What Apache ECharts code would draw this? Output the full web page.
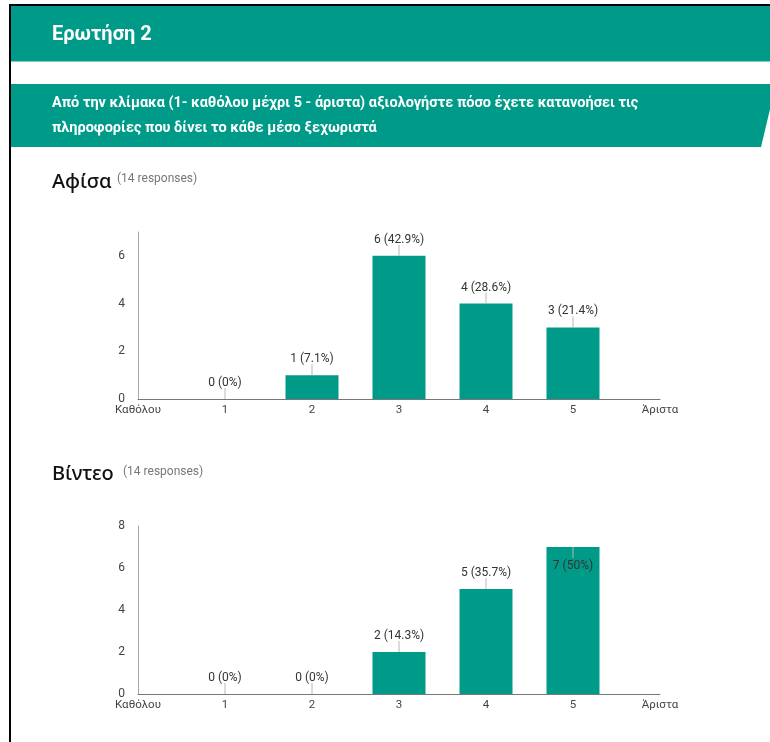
<!DOCTYPE html>
<html>
<head>
<meta charset="utf-8">
<script src="https://cdn.jsdelivr.net/npm/echarts@6/dist/echarts.min.js"></script>
<style>
  html, body { margin: 0; padding: 0; background: #ffffff; }
  #chart { width: 770px; height: 742px; }
</style>
</head>
<body>
<div id="chart"></div>
<script>
// Survey question text
const questionTitle = 'Ερωτήση 2';
const questionLines = [
  'Από την κλίμακα (1- καθόλου μέχρι 5 - άριστα) αξιολογήστε πόσο έχετε κατανοήσει τις',
  'πληροφορίες που δίνει το κάθε μέσο ξεχωριστά'
];
const sectionNames = ['Αφίσα', 'Βίντεο'];
const responseNote = '(14 responses)';

// Rating scale: end labels and the five levels
const scaleLow = 'Καθόλου';
const scaleHigh = 'Άριστα';
const ratingLevels = ['1', '2', '3', '4', '5'];

// Number of answers per rating level
const posterCounts = [0, 1, 6, 4, 3];
const videoCounts = [0, 0, 2, 5, 7];

// Value axis extents and labelled ticks
const posterMax = 7;
const videoMax = 8;
const posterTicks = [0, 2, 4, 6];
const videoTicks = [0, 2, 4, 6, 8];

const TEAL = '#009a88';
const axisCategories = [scaleLow, ...ratingLevels, scaleHigh];

function barData(counts) {
  return ['-', ...counts, '-'];
}

function yAxisFor(gridIndex, max, ticks) {
  return {
    type: 'value', gridIndex, min: 0, max, interval: 2,
    axisLine: { show: true, lineStyle: { color: '#a8a8a8', width: 1 } },
    axisTick: { show: false },
    splitLine: { show: false },
    axisLabel: {
      margin: 13, color: '#444', fontSize: 12, fontFamily: 'Roboto',
      formatter: v => (ticks.indexOf(v) >= 0 ? String(v) : '')
    }
  };
}

function xAxisFor(gridIndex) {
  return {
    type: 'category', gridIndex, data: axisCategories, boundaryGap: false,
    axisLine: { show: true, lineStyle: { color: '#777', width: 1 } },
    axisTick: { show: false },
    splitLine: { show: false },
    axisLabel: { margin: 5, color: '#444', fontSize: 11.5, fontFamily: 'Roboto', interval: 0 }
  };
}

// Value + share annotations with a short leader line to the bar top
function annotationSeries(counts, axisIndex) {
  const total = counts.reduce((a, b) => a + b, 0);
  return {
    type: 'custom', xAxisIndex: axisIndex, yAxisIndex: axisIndex, z: 5, clip: false,
    data: counts.map((v, i) => [i + 1, v]),
    encode: { x: 0, y: 1 },
    renderItem(params, api) {
      const idx = api.value(0);
      const v = api.value(1);
      const p = api.coord([idx, v]);
      const pct = Math.round(v / total * 1000) / 10;
      const label = v + ' (' + pct + '%)';
      const inside = p[1] - 23 < params.coordSys.y;
      const lineEnd = inside ? p[1] + 11 : p[1] - 11;
      const ty = inside ? p[1] + 19 : p[1] - 16;
      return {
        type: 'group',
        children: [
          { type: 'line', shape: { x1: p[0], y1: p[1], x2: p[0], y2: lineEnd },
            style: { stroke: '#b8b8b8', lineWidth: 1 } },
          { type: 'text', x: p[0], y: ty,
            style: { text: label, fill: '#333', font: '12px Roboto', align: 'center', verticalAlign: 'middle' } }
        ]
      };
    }
  };
}

function barSeries(counts, axisIndex) {
  return {
    type: 'bar', xAxisIndex: axisIndex, yAxisIndex: axisIndex,
    data: barData(counts), barWidth: 53,
    itemStyle: { color: TEAL },
    emphasis: { disabled: true },
    silent: true
  };
}

const chart = echarts.init(document.getElementById('chart'), null, { renderer: 'canvas' });

chart.setOption({
  animation: false,
  backgroundColor: '#ffffff',
  grid: [
    { left: 138, top: 232, width: 522, height: 167 },
    { left: 138, top: 526, width: 522, height: 168 }
  ],
  xAxis: [xAxisFor(0), xAxisFor(1)],
  yAxis: [yAxisFor(0, posterMax, posterTicks), yAxisFor(1, videoMax, videoTicks)],
  series: [
    barSeries(posterCounts, 0),
    annotationSeries(posterCounts, 0),
    barSeries(videoCounts, 1),
    annotationSeries(videoCounts, 1)
  ],
  graphic: [
    // page frame
    { type: 'rect', shape: { x: 9, y: 4, width: 2, height: 738 }, style: { fill: '#000' }, silent: true },
    { type: 'rect', shape: { x: 9, y: 4, width: 761, height: 2 }, style: { fill: '#000' }, silent: true },
    // title band
    { type: 'rect', shape: { x: 11, y: 6, width: 759, height: 56 }, style: { fill: TEAL }, silent: true },
    { type: 'rect', shape: { x: 11, y: 61, width: 759, height: 1 }, style: { fill: '#7fcfc4' }, silent: true },
    { type: 'text', x: 52, y: 35, silent: true,
      style: { text: questionTitle, fill: '#ffffff', font: 'bold 20px Roboto', verticalAlign: 'middle' } },
    // question band with slanted right edge
    { type: 'polygon', silent: true,
      shape: { points: [[11, 84], [776, 84], [761, 147], [11, 147]] },
      style: { fill: TEAL } },
    { type: 'text', x: 52, y: 103, silent: true,
      style: { text: questionLines[0], fill: '#ffffff', font: 'bold 14.5px Roboto', verticalAlign: 'middle' } },
    { type: 'text', x: 52, y: 128, silent: true,
      style: { text: questionLines[1], fill: '#ffffff', font: 'bold 14.5px Roboto', verticalAlign: 'middle' } },
    // section headings
    { type: 'text', x: 52, y: 182, silent: true,
      style: { text: sectionNames[0], fill: '#111', font: '500 20px "Noto Sans"', verticalAlign: 'middle' } },
    { type: 'text', x: 117, y: 179, silent: true,
      style: { text: responseNote, fill: '#777', font: '12px Roboto', verticalAlign: 'middle' } },
    { type: 'text', x: 52, y: 474, silent: true,
      style: { text: sectionNames[1], fill: '#111', font: '500 20px "Noto Sans"', verticalAlign: 'middle' } },
    { type: 'text', x: 123, y: 472, silent: true,
      style: { text: responseNote, fill: '#777', font: '12px Roboto', verticalAlign: 'middle' } }
  ]
});
</script>
</body>
</html>
